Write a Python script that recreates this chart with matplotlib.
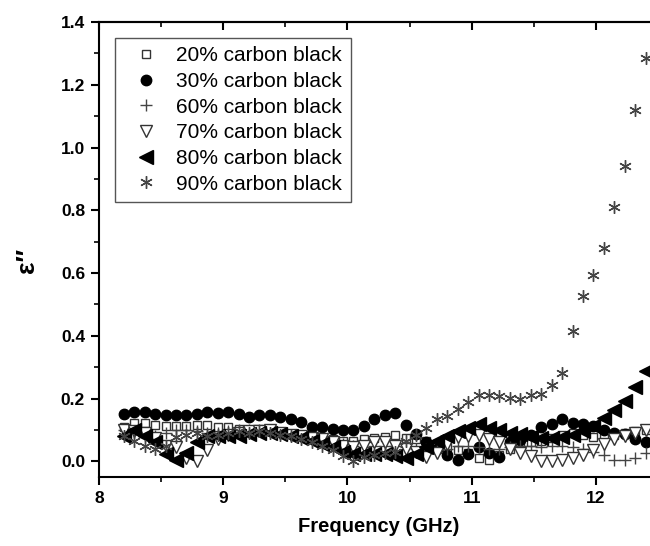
import matplotlib
matplotlib.use("Agg")
import matplotlib.pyplot as plt
from matplotlib.ticker import MultipleLocator

plt.rcParams['font.family'] = ['Liberation Sans', 'DejaVu Sans']

# measurement frequencies (GHz), X band
freq = [8.200, 8.284, 8.368, 8.452, 8.536, 8.620, 8.704, 8.788, 8.872, 8.956,
        9.040, 9.124, 9.208, 9.292, 9.376, 9.460, 9.544, 9.628, 9.712, 9.796,
        9.880, 9.964, 10.048, 10.132, 10.216, 10.300, 10.384, 10.468, 10.552, 10.636,
        10.720, 10.804, 10.888, 10.972, 11.056, 11.140, 11.224, 11.308, 11.392, 11.476,
        11.560, 11.644, 11.728, 11.812, 11.896, 11.980, 12.064, 12.148, 12.232, 12.316,
        12.400]

cb20 = [0.110, 0.121, 0.121, 0.115, 0.112, 0.112, 0.112, 0.117, 0.117, 0.110,
        0.108, 0.102, 0.097, 0.102, 0.097, 0.091, 0.086, 0.083, 0.081, 0.075,
        0.070, 0.065, 0.065, 0.070, 0.075, 0.078, 0.083, 0.075, 0.070, 0.065,
        0.055, 0.045, 0.035, 0.025, 0.012, 0.005, 0.020, 0.040, 0.054, 0.060,
        0.065, 0.075, 0.085, 0.090, 0.083, 0.078, 0.080, 0.085, 0.090, 0.097,
        0.100]
cb30 = [0.150, 0.157, 0.156, 0.150, 0.146, 0.146, 0.146, 0.150, 0.158, 0.154,
        0.156, 0.150, 0.140, 0.146, 0.149, 0.140, 0.134, 0.124, 0.110, 0.110,
        0.104, 0.100, 0.100, 0.113, 0.134, 0.146, 0.155, 0.115, 0.086, 0.060,
        0.040, 0.020, 0.004, 0.022, 0.046, 0.025, 0.014, 0.060, 0.067, 0.083,
        0.110, 0.118, 0.134, 0.123, 0.118, 0.112, 0.100, 0.089, 0.086, 0.070,
        0.060]
cb60 = [0.100, 0.090, 0.085, 0.080, 0.090, 0.100, 0.100, 0.095, 0.090, 0.090,
        0.095, 0.100, 0.100, 0.100, 0.095, 0.090, 0.085, 0.080, 0.075, 0.070,
        0.060, 0.055, 0.050, 0.045, 0.050, 0.050, 0.050, 0.045, 0.040, 0.040,
        0.035, 0.040, 0.050, 0.050, 0.045, 0.040, 0.040, 0.045, 0.050, 0.050,
        0.045, 0.050, 0.050, 0.045, 0.040, 0.030, 0.020, 0.005, 0.005, 0.010,
        0.025]
cb70 = [0.100, 0.095, 0.090, 0.075, 0.050, 0.045, 0.010, 0.000, 0.035, 0.070,
        0.085, 0.090, 0.095, 0.095, 0.100, 0.090, 0.085, 0.080, 0.075, 0.070,
        0.060, 0.050, 0.045, 0.050, 0.060, 0.060, 0.050, 0.040, 0.030, 0.013,
        0.028, 0.055, 0.076, 0.080, 0.085, 0.070, 0.060, 0.040, 0.025, 0.017,
        0.000, 0.000, 0.003, 0.010, 0.020, 0.035, 0.055, 0.070, 0.080, 0.090,
        0.100]
cb80 = [0.080, 0.100, 0.080, 0.060, 0.022, 0.004, 0.028, 0.060, 0.080, 0.080,
        0.080, 0.080, 0.086, 0.090, 0.091, 0.086, 0.080, 0.075, 0.065, 0.054,
        0.044, 0.030, 0.022, 0.024, 0.022, 0.022, 0.017, 0.010, 0.022, 0.044,
        0.065, 0.081, 0.097, 0.107, 0.118, 0.107, 0.100, 0.091, 0.086, 0.078,
        0.075, 0.075, 0.078, 0.083, 0.097, 0.112, 0.139, 0.165, 0.192, 0.237,
        0.287]
cb90 = [0.080, 0.065, 0.050, 0.040, 0.050, 0.078, 0.085, 0.091, 0.080, 0.085,
        0.090, 0.095, 0.090, 0.095, 0.090, 0.085, 0.080, 0.070, 0.060, 0.050,
        0.035, 0.017, 0.001, 0.014, 0.020, 0.025, 0.030, 0.065, 0.085, 0.107,
        0.134, 0.144, 0.167, 0.189, 0.211, 0.211, 0.208, 0.202, 0.200, 0.210,
        0.216, 0.242, 0.282, 0.415, 0.528, 0.593, 0.680, 0.812, 0.942, 1.120,
        1.286]

labels = ['20% carbon black', '30% carbon black', '60% carbon black',
          '70% carbon black', '80% carbon black', '90% carbon black']

fig = plt.figure(figsize=(6.5, 5.46), dpi=100)
ax = fig.add_axes([0.1523, 0.1264, 0.86, 0.8333])

ax.plot(freq, cb20, 's', ms=6, mfc='white', mec='#333333', mew=1.0, ls='none', label=labels[0])
ax.plot(freq, cb30, 'o', ms=7.5, mfc='black', mec='black', ls='none', label=labels[1])
ax.plot(freq, cb60, '+', ms=8, mec='#444444', mew=1.0, ls='none', label=labels[2])
ax.plot(freq, cb70, 'v', ms=9, mfc='white', mec='#333333', mew=1.0, ls='none', label=labels[3])
ax.plot(freq, cb80, '<', ms=9.5, mfc='black', mec='black', ls='none', label=labels[4])
ax.plot(freq, cb90, marker=(6, 2, 0), ms=9, mec='#444444', mew=1.0, ls='none', label=labels[5])

ax.set_xlim(8, 12.5)
ax.set_ylim(-0.05, 1.4)
ax.xaxis.set_major_locator(MultipleLocator(1))
ax.xaxis.set_minor_locator(MultipleLocator(0.5))
ax.yaxis.set_major_locator(MultipleLocator(0.2))
ax.yaxis.set_minor_locator(MultipleLocator(0.1))
ax.yaxis.set_major_formatter(matplotlib.ticker.FormatStrFormatter('%.1f'))

for s in ax.spines.values():
    s.set_linewidth(1.5)
ax.tick_params(which='major', direction='out', length=6, width=1.5, labelsize=12.5, pad=4)
ax.tick_params(which='minor', direction='out', length=3.6, width=1.2)
for t in ax.get_xticklabels() + ax.get_yticklabels():
    t.set_fontweight('bold')

# inward ticks on top and right
top = ax.secondary_xaxis('top')
top.xaxis.set_major_locator(MultipleLocator(1))
top.xaxis.set_minor_locator(MultipleLocator(0.5))
top.tick_params(which='major', direction='in', length=6, width=1.5, labeltop=False)
top.tick_params(which='minor', direction='in', length=3.6, width=1.2)
top.spines['top'].set_linewidth(1.5)
right = ax.secondary_yaxis('right')
right.yaxis.set_major_locator(MultipleLocator(0.2))
right.yaxis.set_minor_locator(MultipleLocator(0.1))
right.tick_params(which='major', direction='in', length=6, width=1.5, labelright=False)
right.tick_params(which='minor', direction='in', length=3.6, width=1.2)

ax.set_xlabel('Frequency (GHz)', fontsize=14.5, fontweight='bold', labelpad=8)
fig.text(27 / 650, 1 - 260 / 546, 'ε″', rotation=90, fontsize=19, fontweight='bold',
         ha='center', va='center')

leg = ax.legend(loc='upper left', bbox_to_anchor=(0.0286, 0.965), borderaxespad=0,
                fontsize=15, frameon=True, fancybox=False, framealpha=1,
                edgecolor='#555555', borderpad=0.4, labelspacing=0.32,
                handlelength=2.2, handletextpad=0.35, numpoints=1)
leg.get_frame().set_linewidth(1.0)

fig.savefig('out.png', dpi=100)
